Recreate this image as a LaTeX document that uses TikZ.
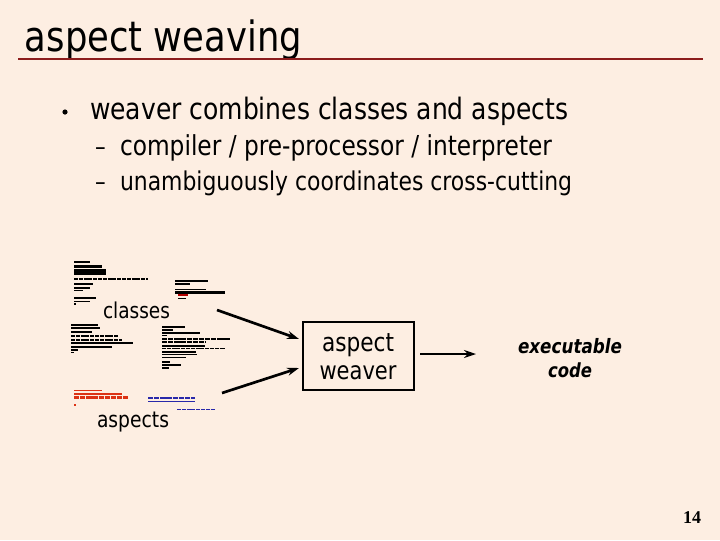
\documentclass[tikz,border=0pt]{standalone}
\usepackage{fontspec}
\setmainfont{DejaVu Sans}
\newfontfamily\numfont{Liberation Serif}
\usetikzlibrary{arrows.meta}
\definecolor{bg}{RGB}{253,238,226}
\definecolor{rule}{RGB}{140,28,28}
\definecolor{ared}{RGB}{220,50,20}
\definecolor{ablue}{RGB}{40,40,170}
\tikzset{
  txt/.style={anchor=base west, inner sep=0pt, outer sep=0pt},
  ctxt/.style={anchor=base, inner sep=0pt, outer sep=0pt},
  snip/.style={line width=2.2pt, line cap=butt},
  thin snip/.style={line width=1.2pt, line cap=butt},
  arr/.style={line width=2pt, -{Stealth[length=9pt,width=6pt]}},
  wbox/.style={draw, line width=1.6pt, minimum width=83.25pt, minimum height=51pt, inner sep=0pt}
}
\newcommand{\fitw}[2]{\scalebox{1}[1.18]{\resizebox{#1}{!}{#2}}}
\begin{document}
\begin{tikzpicture}[x=0.75pt,y=-0.75pt]
\fill[bg] (0,0) rectangle (720,540);
\useasboundingbox (0,0) rectangle (720,540);
% title
\node[txt] (title) at (25,51) {\fitw{207.75pt}{aspect weaving}};
\draw[rule, line width=1.4pt] (18,59) -- (703,59);
% bullets
\fill (65,112) circle (2.6);
\node[txt] (b1) at (90,119) {\fitw{358.5pt}{weaver combines classes and aspects}};
\node[txt] (d1) at (95,155) {\fitw{8pt}{–}};
\node[txt] (s1) at (120,155) {\fitw{324pt}{compiler / pre-processor / interpreter}};
\node[txt] (d2) at (95,190) {\fitw{8pt}{–}};
\node[txt] (s2) at (120,190) {\fitw{339pt}{unambiguously coordinates cross-cutting}};
% class code snippets
\draw[thin snip] (74,262) -- (90,262);
\draw[snip] (74,266.5) -- (102,266.5);
\draw[snip] (74,270.5) -- (106,270.5);
\draw[snip] (74,273.5) -- (106,273.5);
\draw[thin snip, dash pattern=on 3pt off 0.6pt] (74,279) -- (148,279);
\draw[snip] (74,284) -- (93,284);
\draw[snip] (74,288) -- (90,288);
\draw[thin snip] (74,290.5) -- (83,290.5);
\draw[snip] (74,298) -- (96,298);
\draw[thin snip] (74,301.5) -- (90,301.5);
\draw[thin snip] (74,304) -- (76,304);
\draw[snip] (175,281) -- (208,281);
\draw[snip] (175,284) -- (190,284);
\draw[thin snip] (175,289.5) -- (206,289.5);
\draw[snip] (175,292.5) -- (225,292.5);
\draw[thin snip, red!70!black] (178,295) -- (188,295);
\draw[thin snip] (178,298.5) -- (186,298.5);
\draw[snip] (71,325) -- (98,325);
\draw[snip] (71,328) -- (100,328);
\draw[thin snip] (71,332) -- (92,332);
\draw[thin snip, dash pattern=on 3pt off 0.6pt] (71,336) -- (118,336);
\draw[thin snip, dash pattern=on 3pt off 0.6pt] (71,340) -- (122,340);
\draw[snip] (71,343) -- (133,343);
\draw[snip] (71,347) -- (112,347);
\draw[thin snip] (71,350) -- (78,350);
\draw[thin snip] (71,352.5) -- (74,352.5);
\draw[snip] (162,327) -- (185,327);
\draw[snip] (162,330) -- (173,330);
\draw[snip] (162,333) -- (200,333);
\draw[thin snip] (162,335.5) -- (167,335.5);
\draw[snip, dash pattern=on 4pt off 0.6pt] (162,339) -- (230,339);
\draw[snip, dash pattern=on 4pt off 0.6pt] (162,342) -- (205,342);
\draw[snip] (162,346) -- (205,346);
\draw[thin snip, dash pattern=on 3pt off 0.6pt] (162,348.5) -- (225,348.5);
\draw[snip] (162,352) -- (196,352);
\draw[thin snip] (162,354.5) -- (197,354.5);
\draw[thin snip] (162,357.5) -- (186,357.5);
\draw[snip] (162,362) -- (170,362);
\draw[snip] (162,365) -- (181,365);
\draw[snip] (162,368) -- (169,368);
% aspect code snippets
\draw[thin snip, ared] (74,390.5) -- (102,390.5);
\draw[snip, ared] (74,394) -- (122,394);
\draw[snip, ared, dash pattern=on 4pt off 0.6pt] (74,397.5) -- (128,397.5);
\draw[thin snip, ared] (74,405) -- (76,405);
\draw[snip, ablue, dash pattern=on 4pt off 0.6pt] (148,398) -- (195,398);
\draw[thin snip, ablue] (148,401.5) -- (195,401.5);
\draw[thin snip, ablue, dash pattern=on 3pt off 0.6pt] (177,409.5) -- (215,409.5);
% labels
\node[txt] (classes) at (103,318) {\fitw{50.25pt}{classes}};
\node[txt] (aspects) at (97,427) {\fitw{54pt}{aspects}};
% weaver box
\node[wbox] (weaver) at (358.5,356) {};
\node[ctxt] (wt1) at (358,351) {\fitw{54pt}{aspect}};
\node[ctxt] (wt2) at (358,379) {\fitw{57.75pt}{weaver}};
% executable code
\node[ctxt] (ex1) at (570,353) {\fitw{78pt}{\bfseries\itshape executable}};
\node[ctxt] (ex2) at (570,377) {\fitw{33pt}{\bfseries\itshape code}};
% arrows
\coordinate (c1s) at (217,310);
\coordinate (c1e) at (299,339);
\coordinate (c2s) at (222,393);
\coordinate (c2e) at (299,368);
\coordinate (c3s) at (420,354);
\coordinate (c3e) at (476,354);
\draw[arr] (c1s) -- (c1e);
\draw[arr] (c2s) -- (c2e);
\draw[arr] (c3s) -- (c3e);
% page number
\node[txt] (pg) at (683,523) {\numfont\bfseries\fontsize{13.5pt}{15pt}\selectfont 14};
\end{tikzpicture}
\end{document}
